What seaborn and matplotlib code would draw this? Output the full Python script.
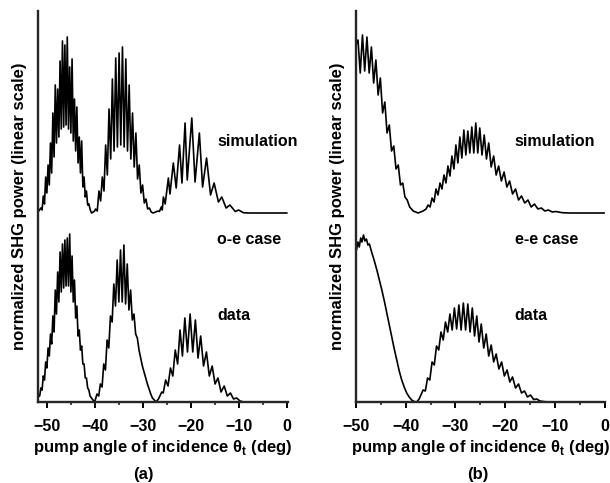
import numpy as np
import matplotlib
matplotlib.use("Agg")
import matplotlib.pyplot as plt
import seaborn as sns

# === Data (power in arbitrary units, 0 = baseline) ===
# (a) o-e case, simulation
sim_a_angle = [-51.9, -51.3, -51.05, -50.8, -50.55, -50.3, -50.05, -49.8, -49.55, -49.3,
               -49.05, -48.8, -48.55, -48.3, -48.05, -47.8, -47.55, -47.3, -47.05, -46.8,
               -46.55, -46.3, -46.05, -45.8, -45.55, -45.3, -45.05, -44.8, -44.55, -44.3,
               -44.05, -43.8, -43.55, -43.3, -43.05, -42.8, -42.55, -42.3, -42.05, -41.8,
               -41.55, -41.3, -41.0, -40.75, -40.4, -40.1, -39.9, -39.55, -39.2, -38.85,
               -38.5, -38.15, -37.8, -37.45, -37.1, -36.75, -36.4, -36.05, -35.7, -35.35,
               -35.0, -34.65, -34.3, -33.95, -33.6, -33.25, -32.9, -32.55, -32.2, -31.85,
               -31.5, -31.15, -30.8, -30.45, -30.1, -29.75, -29.4, -29.05, -28.7, -28.3,
               -27.9, -27.4, -26.9, -26.6, -26.2, -26.0, -25.77, -25.4, -24.73, -24.4,
               -23.7, -23.1, -22.4, -21.9, -21.25, -20.8, -19.85, -19.17, -18.27, -17.6,
               -16.77, -15.94, -15.2, -14.3, -13.6, -12.7, -11.9, -10.8, -10.1, -9.1,
               -8.0, 0.0]
sim_a_power = [1, 5, 3, 17, 9, 36, 20, 48, 28, 70,
               40, 100, 56, 128, 70, 124, 76, 152, 84, 172,
               86, 168, 88, 176, 84, 146, 80, 154, 72, 114,
               62, 106, 50, 76, 40, 72, 26, 36, 16, 22,
               8, 9, 3, 0, 1, 2, 4, 2, 22, 12,
               36, 22, 68, 38, 104, 54, 134, 62, 155, 66,
               160, 68, 166, 66, 154, 62, 128, 54, 100, 46,
               80, 34, 48, 20, 28, 10, 14, 4, 5, 1,
               0, 1, 2, 1.5, 6, 3, 16, 9, 35, 19,
               50, 25, 68, 30, 90, 33, 95, 31, 80, 26,
               55, 18, 30, 11, 16, 5, 8, 1.5, 3, 0.3,
               0, 0]

# (a) o-e case, data
dat_a_angle = [-51.9, -51.55, -51.3, -51.05, -50.8, -50.55, -50.3, -50.05, -49.8, -49.55,
               -49.3, -49.05, -48.8, -48.55, -48.3, -48.05, -47.8, -47.55, -47.3, -47.05,
               -46.8, -46.55, -46.3, -46.05, -45.8, -45.55, -45.3, -45.05, -44.8, -44.55,
               -44.3, -44.05, -43.8, -43.55, -43.3, -43.05, -42.8, -42.55, -42.3, -42.05,
               -41.8, -41.55, -41.3, -41.05, -40.6, -40.1, -39.6, -39.25, -38.9, -38.55,
               -38.2, -37.85, -37.5, -37.15, -36.8, -36.45, -36.1, -35.75, -35.4, -35.05,
               -34.7, -34.35, -34.0, -33.65, -33.3, -32.95, -32.6, -32.25, -31.9, -31.55,
               -31.2, -30.85, -30.5, -30.15, -29.8, -29.45, -29.1, -28.75, -28.4, -28.05,
               -27.3, -26.8, -26.1, -25.8, -25.3, -24.8, -24.3, -23.8, -23.3, -22.8,
               -22.3, -21.8, -21.3, -20.75, -20.2, -19.65, -19.1, -18.55, -18.0, -17.4,
               -16.8, -16.2, -15.6, -15.0, -14.4, -13.75, -13.1, -12.45, -11.8, -11.15,
               -10.5, -9.8, -9.0, 0.0]
dat_a_power = [5, 6, 14, 12, 26, 22, 40, 34, 54, 46,
               68, 58, 86, 70, 112, 88, 130, 100, 150, 110,
               158, 114, 162, 116, 164, 116, 168, 110, 146, 100,
               122, 84, 96, 66, 72, 52, 56, 38, 38, 24,
               24, 14, 12, 6, 3, 0, 8, 6, 18, 15,
               38, 32, 62, 54, 86, 80, 118, 96, 142, 100,
               152, 100, 157, 98, 138, 92, 112, 82, 88, 68,
               64, 52, 44, 36, 30, 24, 18, 13, 8, 4,
               0, 3, 10, 9, 22, 16, 34, 26, 52, 38,
               72, 46, 84, 50, 88, 50, 82, 44, 66, 36,
               50, 26, 36, 18, 24, 10, 16, 6, 9, 3,
               4, 1, 0, 0]

# (b) e-e case, simulation
sim_b_angle = [-50.0, -49.6, -49.15, -48.7, -48.25, -47.8, -47.35, -46.9, -46.45, -46.0,
               -45.55, -45.1, -44.65, -44.2, -43.75, -43.3, -42.85, -42.4, -41.95, -41.5,
               -41.05, -40.6, -40.15, -39.7, -39.2, -38.5, -37.5, -36.5, -35.9, -35.5,
               -35.1, -34.7, -34.3, -33.9, -33.5, -33.1, -32.7, -32.3, -31.9, -31.5,
               -31.1, -30.7, -30.3, -29.9, -29.5, -29.1, -28.7, -28.3, -27.9, -27.5,
               -27.1, -26.7, -26.3, -25.9, -25.5, -25.1, -24.65, -24.2, -23.75, -23.3,
               -22.8, -22.3, -21.8, -21.3, -20.75, -20.2, -19.65, -19.1, -18.5, -17.9,
               -17.3, -16.7, -16.05, -15.4, -14.75, -14.1, -13.4, -12.7, -12.0, -11.3,
               -10.5, -9.8, -8.5, -7.0, 0.0]
sim_b_power = [168, 173, 140, 178, 142, 176, 140, 166, 130, 153,
               118, 135, 100, 111, 80, 88, 62, 67, 44, 48,
               28, 30, 16, 13, 6, 2, 0, 2, 4, 8,
               6, 15, 11, 24, 18, 30, 24, 38, 30, 47,
               37, 57, 44, 68, 50, 76, 55, 83, 58, 82,
               60, 86, 60, 90, 60, 85, 58, 78, 54, 70,
               46, 57, 38, 47, 32, 41, 26, 32, 19, 24,
               13, 17, 10, 13, 6, 9, 4, 5, 2, 3,
               1, 1.5, 0.3, 0, 0]

# (b) e-e case, data
dat_b_angle = [-49.9, -49.6, -49.35, -49.05, -48.8, -48.5, -48.2, -47.9, -47.6, -47.3,
               -46.8, -46.3, -45.8, -45.3, -44.8, -44.3, -43.8, -43.3, -42.8, -42.3,
               -41.8, -41.3, -40.8, -40.3, -39.8, -39.3, -38.8, -38.3, -37.8, -37.3,
               -36.5, -36.05, -35.6, -35.15, -34.7, -34.25, -33.8, -33.35, -32.9, -32.45,
               -32.0, -31.55, -31.1, -30.65, -30.2, -29.75, -29.3, -28.85, -28.4, -27.95,
               -27.5, -27.05, -26.6, -26.15, -25.7, -25.25, -24.8, -24.3, -23.8, -23.3,
               -22.8, -22.3, -21.8, -21.25, -20.7, -20.15, -19.6, -19.05, -18.5, -17.9,
               -17.3, -16.7, -16.1, -15.5, -14.9, -14.25, -13.6, -13.0, -12.0, -11.0,
               0.0]
dat_b_power = [152, 160, 155, 164, 160, 167, 161, 163, 157, 158,
               149, 141, 132, 122, 112, 101, 89, 77, 65, 53,
               42, 31, 22, 15, 9, 5, 2, 0.5, 0, 3,
               12, 11, 24, 22, 40, 37, 56, 52, 70, 62,
               80, 70, 88, 72, 94, 73, 97, 72, 99, 72,
               98, 70, 94, 66, 86, 60, 78, 54, 68, 46,
               57, 40, 48, 33, 40, 26, 32, 20, 25, 14,
               18, 9, 11, 5, 7, 2.5, 3, 1, 0.3, 0,
               0]

sim_offset = 189   # simulation trace is shifted up above the data trace
y_top = 391

panels = [
    dict(sim_x=sim_a_angle, sim_y=sim_a_power, dat_x=dat_a_angle, dat_y=dat_a_power,
         xlim=(-51.9, 0.2), case="o-e case", tag="(a)", text_x=-14.6),
    dict(sim_x=sim_b_angle, sim_y=sim_b_power, dat_x=dat_b_angle, dat_y=dat_b_power,
         xlim=(-50, 0.1), case="e-e case", tag="(b)", text_x=-18.1),
]

sns.set_style("ticks")
plt.rcParams['font.family'] = ['Liberation Sans', 'DejaVu Sans']
plt.rcParams['font.weight'] = 'bold'

fig = plt.figure(figsize=(6.1, 4.83), dpi=100)
ax_rects = [[38 / 610, 81 / 483, 250 / 610, 391 / 483],
            [356 / 610, 81 / 483, 249 / 610, 391 / 483]]
tag_x = [143 / 610, 478 / 610]

for p, rect, tx in zip(panels, ax_rects, tag_x):
    ax = fig.add_axes(rect)
    sns.lineplot(x=p["sim_x"], y=np.array(p["sim_y"]) + sim_offset, ax=ax,
                 color="black", lw=1.2, estimator=None, sort=False)
    sns.lineplot(x=p["dat_x"], y=p["dat_y"], ax=ax,
                 color="black", lw=1.2, estimator=None, sort=False)
    ax.set_xlim(*p["xlim"])
    ax.set_ylim(0, y_top)
    ax.set_xticks([-50, -40, -30, -20, -10, 0])
    ax.set_xticks([-45, -35, -25, -15, -5], minor=True)
    ax.set_yticks([])
    sns.despine(ax=ax)
    for s in ["left", "bottom"]:
        ax.spines[s].set_linewidth(1.7)
    ax.tick_params(axis="x", which="major", length=4, width=1.4, pad=8,
                   labelsize=11.5, colors="black")
    ax.tick_params(axis="x", which="minor", length=2.5, width=1.2)
    for lab in ax.get_xticklabels():
        lab.set_fontweight("bold")
    ax.set_xlabel(r"pump angle of incidence θ$_\mathregular{t}$ (deg)",
                  fontsize=12, fontweight="bold", labelpad=3, color="black")
    ax.set_ylabel("normalized SHG power (linear scale)", fontsize=12,
                  fontweight="bold", labelpad=8, color="black")
    ax.text(p["text_x"], 260, "simulation", fontsize=11.5, fontweight="bold",
            ha="left", va="center", color="black")
    ax.text(p["text_x"], 162, p["case"], fontsize=11.5, fontweight="bold",
            ha="left", va="center", color="black")
    ax.text(p["text_x"], 87, "data", fontsize=11.5, fontweight="bold",
            ha="left", va="center", color="black")
    fig.text(tx, 1 - 475 / 483, p["tag"], fontsize=12, fontweight="bold",
             ha="center", va="center", color="black")

fig.savefig("out.png", dpi=100)
